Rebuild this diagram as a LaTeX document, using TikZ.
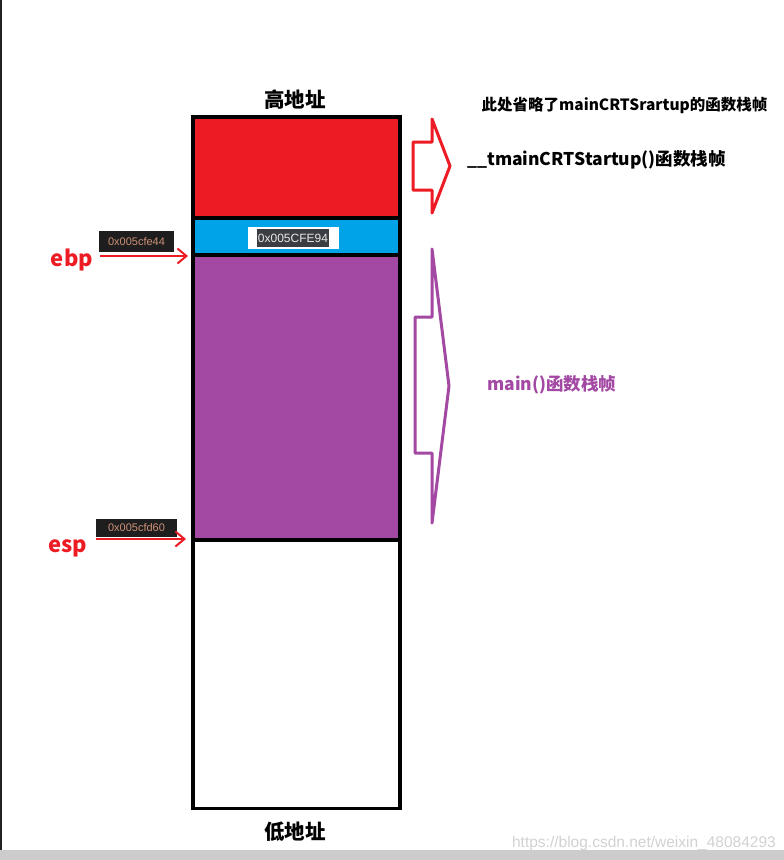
\documentclass[tikz,border=0pt]{standalone}
\usepackage{fontspec}
\usetikzlibrary{arrows.meta}
\newfontfamily\cjk{Noto Sans CJK SC}
\newfontfamily\lab{Liberation Sans}
\definecolor{pred}{HTML}{ED1C24}
\definecolor{pblue}{HTML}{00A2E8}
\definecolor{ppurp}{HTML}{A349A4}
\definecolor{vsbg}{HTML}{1E1E1E}
\definecolor{vsstr}{HTML}{CE9178}
\definecolor{hlbg}{HTML}{3A3D41}
\definecolor{hltx}{HTML}{E8E8E8}
\definecolor{wmark}{HTML}{D2D2D2}
\definecolor{barg}{HTML}{CCCCCC}
\definecolor{edge}{HTML}{222222}
\tikzset{
  zh/.style={font=\cjk\bfseries\fontsize{#1}{#1}\selectfont, inner sep=0pt},
  addr/.style={font=\lab\fontsize{#1}{#1}\selectfont, inner sep=0pt},
  stackline/.style={line width=3.5pt},
  ptr/.style={pred, line width=2pt, -{Straight Barb[length=9pt,width=15pt,line width=2pt]}},
  blockarrow/.style={line width=3pt, line join=round},
}
\begin{document}
\begin{tikzpicture}[x=1pt,y=-1pt]
\useasboundingbox (0,0) rectangle (784,860);
\fill[white] (0,0) rectangle (784,860);
\fill[edge] (0,0) rectangle (1.5,850);
\fill[barg] (0,850) rectangle (784,860);

% stack
\fill[pred] (193,117) rectangle (400,218);
\fill[pblue] (193,218) rectangle (400,255);
\fill[ppurp] (193,255) rectangle (400,540);
\draw[stackline] (193,218) -- (400,218);
\draw[stackline] (193,255) -- (400,255);
\draw[stackline] (193,540) -- (400,540);
\draw[stackline] (193,117) rectangle (400,808.5);

% titles
\node[zh=20.5] (hi) at (295,100) {高地址};
\node[zh=20.5] (lo) at (295,832) {低地址};

% saved ebp value
\node[fill=white, minimum width=91pt, minimum height=22pt, inner sep=0pt] (savebg) at (293.5,238) {};
\node[fill=hlbg, text=hltx, addr=12, minimum width=72pt, minimum height=18pt] (saved) at (293,238) {0x005CFE94};

% ebp / esp
\node[fill=vsbg, text=vsstr, addr=11, minimum width=75pt, minimum height=21pt] (ebpval) at (136.5,241.5) {0x005cfe44};
\node[fill=vsbg, text=vsstr, addr=11, minimum width=81pt, minimum height=18pt] (espval) at (136.5,528) {0x005cfd60};
\node[zh=22, text=pred, anchor=base] (ebp) at (72,266) {ebp};
\node[zh=22, text=pred, anchor=base] (esp) at (68,552) {esp};
\coordinate (ebpS) at (100,256);
\coordinate (ebpT) at (188,256);
\coordinate (espS) at (96,539);
\coordinate (espT) at (186,539);
\draw[ptr] (ebpS) -- (ebpT);
\draw[ptr] (espS) -- (espT);

% block arrows
\draw[blockarrow, pred] (413,142) -- (432,142) -- (432,119) -- (450,166) -- (432,213) -- (432,190) -- (413,190) -- cycle;
\draw[blockarrow, ppurp] (415,317) -- (432,317) -- (432,249) -- (449,386) -- (432,523) -- (432,453) -- (415,453) -- cycle;

% labels
\node[zh=15.5] (note) at (624.5,105) {此处省略了mainCRTSrartup的函数栈帧};
\node[zh=17.5, anchor=west] (tmain) at (467,160) {\_\_tmainCRTStartup()函数栈帧};
\node[zh=17.5, anchor=west, text=ppurp] (mainf) at (487,385) {main()函数栈帧};

% watermark
\node[addr=15.5, text=wmark, anchor=east] (wm) at (776,843) {https://blog.csdn.net/weixin\_48084293};
\end{tikzpicture}
\end{document}
